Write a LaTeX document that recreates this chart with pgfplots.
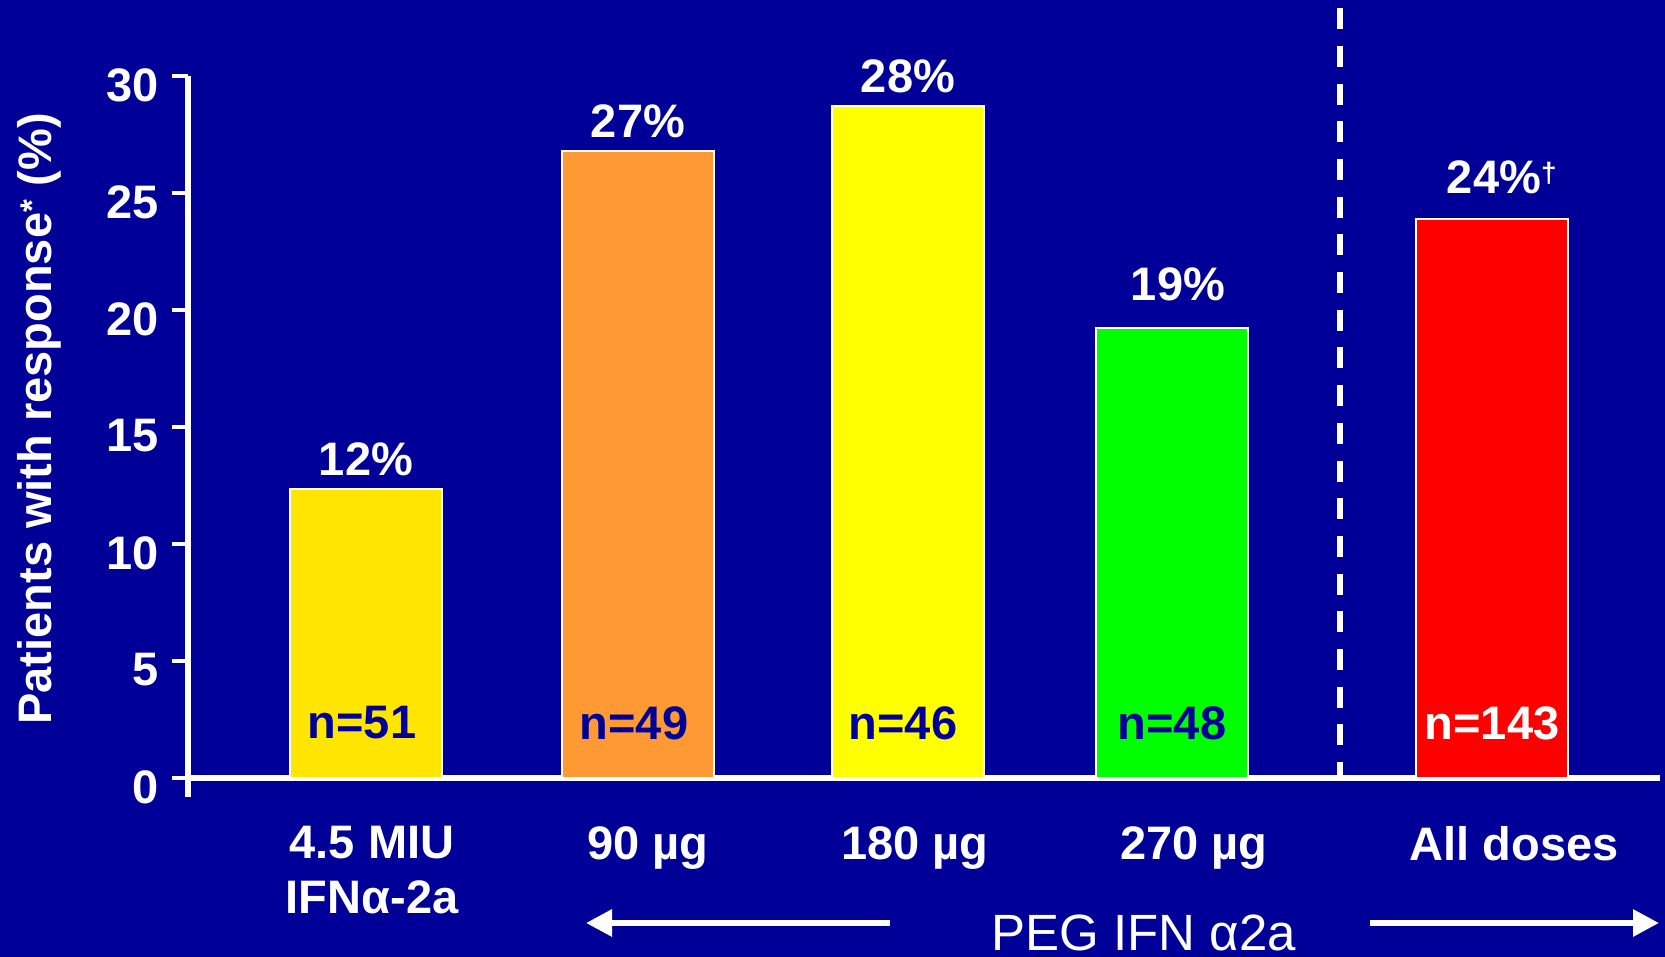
\documentclass[border=0pt]{standalone}
\usepackage{pgfplots}
\pgfplotsset{compat=1.18}
\usepackage{fontspec}
\setmainfont{Liberation Sans}
\usetikzlibrary{arrows.meta}
\definecolor{navy}{HTML}{000099}
\definecolor{cgold}{HTML}{FFE600}
\definecolor{corange}{HTML}{FF9933}
\definecolor{cyellow}{HTML}{FFFF00}
\definecolor{cgreen}{HTML}{00FF00}
\definecolor{cred}{HTML}{FF0000}
\newcommand{\bigbf}{\bfseries\fontsize{47bp}{55bp}\selectfont}
\begin{document}
\begin{tikzpicture}
\fill[navy] (-188bp,-179bp) rectangle (1477bp,778bp);
\begin{axis}[
  at={(0,0)}, anchor=origin,
  scale only axis, width=1472bp, height=702bp,
  xmin=188, xmax=1660, ymin=0, ymax=30,
  clip=false,
  axis lines=left,
  axis line style={white, line width=5.5bp, -},
  xtick={372,648,915,1194,1514},
  xticklabels={{4.5 MIU\\IFNα-2a}, {90 µg}, {180 µg}, {270 µg}, {All doses}},
  xtick style={draw=none},
  xticklabel style={font=\bigbf, text=white, align=center, anchor=north, inner sep=0pt, yshift=-32bp},
  ytick={0,5,10,15,20,25,30},
  ytick style={white, line width=4.5bp},
  tick align=outside,
  major tick length=16bp,
  yticklabel style={font=\bigbf, text=white, anchor=east, inner sep=0pt, xshift=-13bp, yshift=-9bp},
  /pgf/number format/assume math mode=true,
  ybar, bar width=152,
  every node near coord/.append style={font=\bigbf, text=white, inner sep=0pt, yshift=12bp},
]
\addplot[bar shift=0pt, fill=cgold, draw=white, line width=2bp, nodes near coords, point meta=explicit symbolic] coordinates {(366,12.35) [12\%]};
\addplot[bar shift=0pt, fill=corange, draw=white, line width=2bp, nodes near coords, point meta=explicit symbolic] coordinates {(638,26.8) [27\%]};
\addplot[bar shift=0pt, fill=cyellow, draw=white, line width=2bp, nodes near coords, point meta=explicit symbolic] coordinates {(908,28.7) [28\%]};
\addplot[bar shift=0pt, fill=cgreen, draw=white, line width=2bp, nodes near coords, point meta=explicit symbolic,
  every node near coord/.append style={yshift=14bp, xshift=6bp}] coordinates {(1172,19.25) [19\%]};
\addplot[bar shift=0pt, fill=cred, draw=white, line width=2bp, nodes near coords, point meta=explicit symbolic,
  every node near coord/.append style={yshift=12bp, xshift=2bp}] coordinates {(1492,23.9) [24\%\rlap{\raisebox{11bp}{\fontsize{28bp}{28bp}\selectfont †}}]};
\draw[white, line width=5.5bp] (axis cs:188,0) -- (axis cs:188,-0.81);
\draw[white, line width=6bp, dash pattern=on 21bp off 16.7bp] (axis cs:1340,32.9) -- (axis cs:1340,0);
\node[anchor=base, font=\bigbf, text=navy] at (axis cs:362,0) [yshift=40bp] {n=51};
\node[anchor=base, font=\bigbf, text=navy] at (axis cs:634,0) [yshift=39bp] {n=49};
\node[anchor=base, font=\bigbf, text=navy] at (axis cs:903,0) [yshift=39bp] {n=46};
\node[anchor=base, font=\bigbf, text=navy] at (axis cs:1172,0) [yshift=39bp] {n=48};
\node[anchor=base, font=\bigbf, text=white] at (axis cs:1492,0) [yshift=39bp] {n=143};
\end{axis}
\node[rotate=90, anchor=base, font=\bigbf, text=white] at (-136bp,359bp) {Patients with response\textsuperscript{*} (\%)};
\draw[white, line width=6bp, -{Triangle[length=26bp, width=26bp]}] (702bp,-145bp) -- (398bp,-145bp);
\draw[white, line width=6bp, -{Triangle[length=26bp, width=26bp]}] (1182bp,-145bp) -- (1471bp,-145bp);
\node[anchor=base, text=white, font=\fontsize{51bp}{55bp}\selectfont] at (956bp,-172bp) {PEG IFN α2a};
\pgfresetboundingbox
\useasboundingbox (-188bp,-179bp) rectangle (1477bp,778bp);
\end{tikzpicture}
\end{document}
